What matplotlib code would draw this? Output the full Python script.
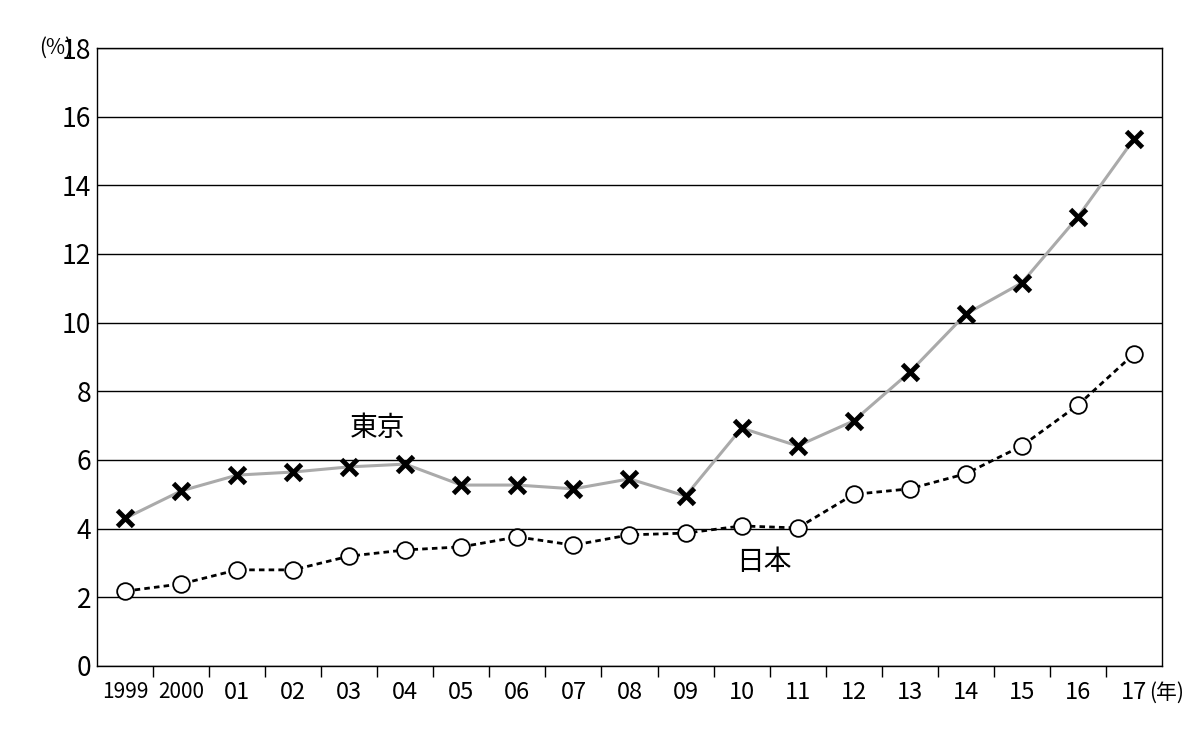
import matplotlib
matplotlib.use("Agg")
import matplotlib.pyplot as plt

plt.rcParams["font.family"] = ["Noto Sans CJK JP", "DejaVu Sans"]

years = ["1999", "2000", "01", "02", "03", "04", "05", "06", "07", "08", "09",
         "10", "11", "12", "13", "14", "15", "16", "17"]
tokyo = [4.3, 5.1, 5.56, 5.65, 5.8, 5.88, 5.27, 5.27, 5.16, 5.45, 4.95,
         6.93, 6.41, 7.14, 8.56, 10.25, 11.16, 13.08, 15.35]
japan = [2.18, 2.39, 2.8, 2.8, 3.2, 3.38, 3.47, 3.76, 3.52, 3.82, 3.87,
         4.08, 4.02, 5.0, 5.16, 5.6, 6.41, 7.6, 9.09]

fig = plt.figure(figsize=(12, 7.34), dpi=100)
ax = fig.add_axes([97 / 1200, 1 - 666 / 734, 1065 / 1200, 618 / 734])

x = list(range(len(years)))
ax.plot(x, tokyo, color="#aaaaaa", lw=2.2, zorder=2)
ax.plot(x, tokyo, ls="none", marker="x", ms=11, mew=3.5, color="black", zorder=4)
ax.plot(x, japan, color="black", lw=2, ls=(0, (2, 1.5)), marker="o", ms=12,
        mfc="white", mec="black", mew=1.3, zorder=3)

ax.set_xlim(-0.5, len(years) - 0.5)
ax.set_ylim(0, 18)
ax.set_yticks(range(0, 19, 2))
ax.yaxis.grid(True, color="black", lw=1)
ax.set_axisbelow(True)
ax.tick_params(axis="y", length=0, labelsize=19, pad=4)
ax.set_xticks([i + 0.5 for i in range(len(years) - 1)])
ax.set_xticklabels([])
ax.tick_params(axis="x", length=8, direction="out", width=1)
for i, lab in enumerate(years):
    ax.text(i, -0.45, lab, ha="center", va="top", fontsize=15 if len(lab) == 4 else 17)
ax.text(len(years) - 0.73, -0.45, "(年)", ha="left", va="top", fontsize=15)
ax.text(-0.95, 18, "(%)", ha="right", va="center", fontsize=15)
for s in ax.spines.values():
    s.set_linewidth(1)

ax.text(4.5, 6.5, "東京", ha="center", va="bottom", fontsize=20)
ax.text(11.4, 2.6, "日本", ha="center", va="bottom", fontsize=20)

fig.savefig("out.png", dpi=100)
